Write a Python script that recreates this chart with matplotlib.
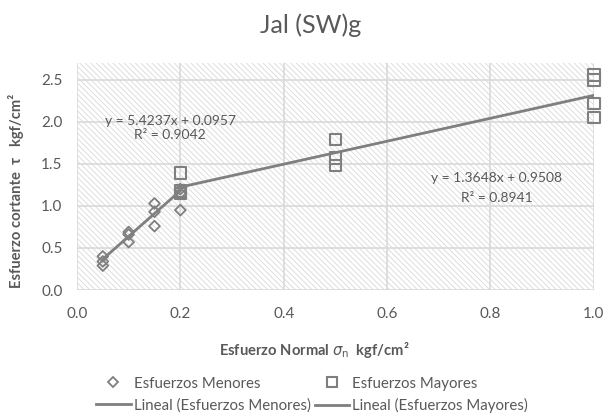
import matplotlib
matplotlib.use("Agg")
import matplotlib.pyplot as plt
from matplotlib.patches import Rectangle
from matplotlib.lines import Line2D
import numpy as np

plt.rcParams['font.family'] = ['Lato', 'DejaVu Sans']
plt.rcParams['hatch.color'] = '#d9d9d9'
plt.rcParams['hatch.linewidth'] = 0.6

# data
menores_x = [0.05, 0.05, 0.05, 0.10, 0.10, 0.10, 0.15, 0.15, 0.15, 0.20, 0.20, 0.20]
menores_y = [0.40, 0.34, 0.29, 0.69, 0.66, 0.57, 1.03, 0.93, 0.76, 0.95, 1.15, 1.20]
mayores_x = [0.20, 0.20, 0.20, 0.50, 0.50, 0.50, 1.00, 1.00, 1.00, 1.00]
mayores_y = [1.39, 1.18, 1.15, 1.79, 1.57, 1.48, 2.56, 2.50, 2.22, 2.05]

# trend lines as shown on the chart (slope, intercept, r2)
menores_fit = (5.4237, 0.0957, 0.9042)
mayores_fit = (1.3648, 0.9508, 0.8941)

gray = '#7f7f7f'
text_gray = '#595959'

fig = plt.figure(figsize=(6.06, 4.2), dpi=100)
ax = fig.add_axes([0.127, 0.3095, 0.853, 0.5405])

# hatched plot area background
ax.add_patch(Rectangle((0, 0), 1, 1, transform=ax.transAxes, facecolor='white',
                       hatch='\\\\\\\\\\\\', edgecolor='#d9d9d9', linewidth=0, zorder=0))

ax.set_xlim(0, 1.0)
ax.set_ylim(0, 2.7)
ax.set_xticks(np.arange(0, 1.01, 0.2))
ax.set_yticks(np.arange(0, 2.51, 0.5))
ax.xaxis.set_major_formatter(matplotlib.ticker.FormatStrFormatter('%.1f'))
ax.yaxis.set_major_formatter(matplotlib.ticker.FormatStrFormatter('%.1f'))
ax.grid(True, color='#d9d9d9', linewidth=1.2, zorder=1)
ax.set_axisbelow(True)
for s in ax.spines.values():
    s.set_visible(False)
ax.tick_params(length=0, colors=text_gray, labelsize=11)
ax.tick_params(axis='y', pad=10.5)
ax.tick_params(axis='x', pad=12)

ax.scatter(menores_x, menores_y, marker='D', s=30, facecolors='none',
           edgecolors=gray, linewidths=1.3, zorder=3, clip_on=False)
ax.scatter(mayores_x, mayores_y, marker='s', s=70, facecolors='none',
           edgecolors=gray, linewidths=1.5, zorder=3, clip_on=False)

xm = np.array([min(menores_x), max(menores_x)])
ax.plot(xm, menores_fit[0] * xm + menores_fit[1], color=gray, lw=2, zorder=4)
xM = np.array([min(mayores_x), max(mayores_x)])
ax.plot(xM, mayores_fit[0] * xM + mayores_fit[1], color=gray, lw=2, zorder=4)

ax.text(0.18, 2.015, f"y = {menores_fit[0]:.4f}x + {menores_fit[1]:.4f}", ha='center', va='center',
        fontsize=10, color=text_gray)
ax.text(0.18, 1.845, f"R² = {menores_fit[2]:.4f}", ha='center', va='center', fontsize=10, color=text_gray)
ax.text(0.812, 1.333, f"y = {mayores_fit[0]:.4f}x + {mayores_fit[1]:.4f}", ha='center', va='center',
        fontsize=10, color=text_gray)
ax.text(0.812, 1.10, f"R² = {mayores_fit[2]:.4f}", ha='center', va='center', fontsize=10, color=text_gray)

fig.text(0.512, 0.94, "Jal (SW)g", ha='center', va='center', fontsize=18, color=text_gray)
ax.set_ylabel("Esfuerzo cortante  τ   kgf/cm²", fontsize=10.6, fontweight='bold', color=text_gray)
ax.yaxis.set_label_coords(-0.103, 0.436)
ax.set_xlabel(r"Esfuerzo Normal $\sigma_\mathrm{n}$  kgf/cm²", fontsize=10.6, fontweight='bold',
              color=text_gray)
ax.xaxis.set_label_coords(0.46, -0.222)

handles = [
    Line2D([], [], marker='D', ls='none', mfc='none', mec=gray, mew=1.3, ms=5),
    Line2D([], [], color=gray, lw=2),
    Line2D([], [], marker='s', ls='none', mfc='none', mec=gray, mew=1.5, ms=7),
    Line2D([], [], color=gray, lw=2),
]
labels = ["Esfuerzos Menores", "Lineal (Esfuerzos Menores)",
          "Esfuerzos Mayores", "Lineal (Esfuerzos Mayores)"]
fig.legend(handles, labels, ncol=2, loc='center', bbox_to_anchor=(0.515, 0.06), frameon=False,
           fontsize=10.8, labelcolor=text_gray, handlelength=2.3, handletextpad=0.2,
           columnspacing=0.3, labelspacing=0.5)

fig.savefig("out.png", dpi=100)
